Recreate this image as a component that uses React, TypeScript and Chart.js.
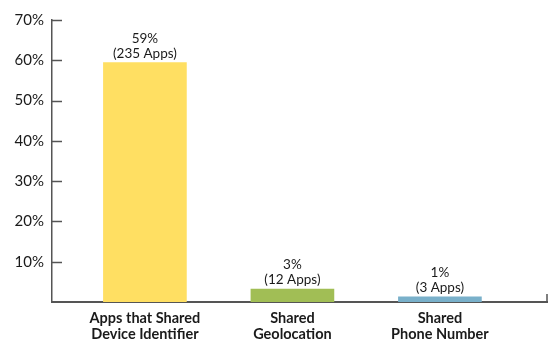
import React, { useEffect, useRef } from "react";
import { Chart, registerables } from "chart.js";

Chart.register(...registerables);

const categories: string[][] = [
  ["Apps that Shared", "Device Identifier"],
  ["Shared", "Geolocation"],
  ["Shared", "Phone Number"],
];
const values: number[] = [59.4, 3.2, 1.3];
const percentLabels: string[] = ["59%", "3%", "1%"];
const countLabels: string[] = ["(235 Apps)", "(12 Apps)", "(3 Apps)"];
const barColors: string[] = ["#FFDF62", "#A1BE55", "#79B0CA"];
const yTicks: number[] = [10, 20, 30, 40, 50, 60, 70];

const FONT = "Lato, 'Open Sans', sans-serif";

const extrasPlugin = {
  id: "extras",
  afterDraw(chart: any) {
    const ctx = chart.ctx;
    const y = chart.scales.y;
    const area = chart.chartArea;
    ctx.save();
    ctx.strokeStyle = "#555555";
    ctx.lineWidth = 1.5;
    yTicks.forEach((v) => {
      const py = Math.round(y.getPixelForValue(v)) + 0.5;
      ctx.beginPath();
      ctx.moveTo(area.left, py);
      ctx.lineTo(area.left + 10, py);
      ctx.stroke();
    });
    ctx.beginPath();
    ctx.moveTo(area.right, area.bottom);
    ctx.lineTo(area.right, area.bottom - 8);
    ctx.stroke();
    const meta = chart.getDatasetMeta(0);
    ctx.fillStyle = "#1a1a1a";
    ctx.font = "13.5px " + FONT;
    ctx.textAlign = "center";
    ctx.textBaseline = "alphabetic";
    meta.data.forEach((bar: any, i: number) => {
      ctx.fillText(countLabels[i], bar.x, bar.y - 5);
      ctx.fillText(percentLabels[i], bar.x, bar.y - 20);
    });
    ctx.restore();
  },
};

export default function App() {
  const ref = useRef<HTMLCanvasElement | null>(null);
  useEffect(() => {
    if (!ref.current) return;
    const chart = new Chart(ref.current, {
      type: "bar",
      data: {
        datasets: [
          {
            data: values.map((v, i) => ({ x: i, y: v })),
            backgroundColor: barColors,
            barThickness: 83,
            borderWidth: 0,
          },
        ],
      },
      options: {
        animation: false,
        responsive: false,
        maintainAspectRatio: false,
        layout: { padding: { left: 0, right: 10, top: 20, bottom: 0 } },
        plugins: { legend: { display: false }, tooltip: { enabled: false } },
        scales: {
          x: {
            type: "linear",
            offset: false,
            bounds: "data",
            min: -0.63,
            max: 2.726,
            afterBuildTicks: (scale: any) => {
              scale.ticks = [{ value: 0 }, { value: 1 }, { value: 2 }];
            },
            afterFit: (scale: any) => {
              scale.height = 52;
            },
            grid: { display: false, drawTicks: false, offset: false },
            border: { display: true, color: "#555555", width: 2 },
            ticks: {
              autoSkip: false,
              maxRotation: 0,
              padding: 9,
              color: "#1a1a1a",
              font: { family: FONT, size: 14.5, weight: "bold", lineHeight: 1.05 },
              callback: (v: any) => categories[Number(v)] ?? "",
            },
          },
          y: {
            min: 0,
            max: 70,
            afterBuildTicks: (scale: any) => {
              scale.ticks = yTicks.map((v) => ({ value: v }));
            },
            afterFit: (scale: any) => {
              scale.width = 52;
            },
            grid: { display: false, drawTicks: false },
            border: { display: true, color: "#555555", width: 1.5 },
            ticks: {
              padding: 8,
              color: "#1a1a1a",
              font: { family: FONT, size: 15 },
              callback: (v: any) => v + "%",
            },
          },
        },
      },
      plugins: [extrasPlugin],
    } as any);
    return () => chart.destroy();
  }, []);
  return (
    <div style={{ position: "fixed", left: 0, top: 0, width: 557, height: 354, background: "#fff" }}>
      <canvas ref={ref} width={557} height={354} style={{ width: 557, height: 354 }} />
    </div>
  );
}
